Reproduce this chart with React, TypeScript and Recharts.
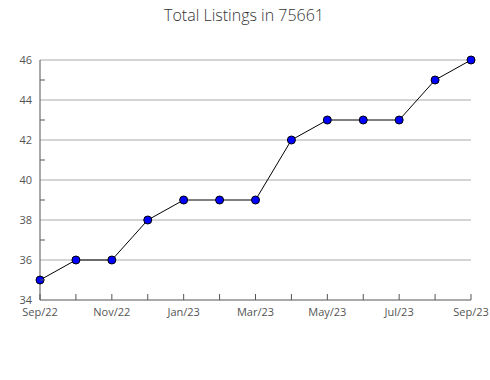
import React from 'react';
import { LineChart, Line, XAxis, YAxis, ReferenceLine } from 'recharts';

const months = ['Sep/22','Oct/22','Nov/22','Dec/22','Jan/23','Feb/23','Mar/23','Apr/23','May/23','Jun/23','Jul/23','Aug/23','Sep/23'];
const listings = [35,36,36,38,39,39,39,42,43,43,43,45,46];
const yTicks = [34,35,36,37,38,39,40,41,42,43,44,45,46];
const gridValues = [36,38,40,42,44,46];

const data = months.map((m, i) => ({ month: m, value: listings[i] }));

const FONT = '"Open Sans", sans-serif';

const YTick = (props: any) => {
  const { x, y, payload } = props;
  const v = payload.value;
  if (v % 2 === 0) {
    return (
      <text x={x - 8} y={y} dy={4} textAnchor="end" fontSize={11} fill="#555" fontFamily={FONT}>{v}</text>
    );
  }
  return <line x1={x} x2={x + 5} y1={y} y2={y} stroke="#555" strokeWidth={1} />;
};

const XTick = (props: any) => {
  const { x, y, payload, index } = props;
  return (
    <g>
      <line x1={x} x2={x} y1={y} y2={y - 6} stroke="#555" strokeWidth={1} />
      {index % 2 === 0 && (
        <text x={x} y={y + 16} textAnchor="middle" fontSize={11} fill="#555" fontFamily={FONT}>{payload.value}</text>
      )}
    </g>
  );
};

export default function App() {
  return (
    <div style={{ position: 'absolute', left: 0, top: 0, width: 490, height: 380, background: '#fff' }}>
      <div style={{ position: 'absolute', left: 0, top: 4, width: 488, textAlign: 'center', fontFamily: FONT, fontSize: 16, color: '#333', fontWeight: 300 }}>
        Total Listings in 75661
      </div>
      <LineChart width={490} height={380} data={data} margin={{ top: 60, right: 19, left: 0, bottom: 50 }}>
        {gridValues.map((g) => (
          <ReferenceLine key={g} y={g} stroke="#aaa" strokeWidth={1} ifOverflow="extendDomain" />
        ))}
        <XAxis dataKey="month" interval={0} tickSize={0} tickMargin={0} height={30} tick={<XTick />} axisLine={{ stroke: '#555' }} tickLine={false} />
        <YAxis domain={[34, 46]} ticks={yTicks} interval={0} width={40} tickSize={0} tickMargin={0} tick={<YTick />} axisLine={{ stroke: '#555' }} tickLine={false} />
        <Line type="linear" dataKey="value" stroke="#000" strokeWidth={1} isAnimationActive={false}
          dot={{ r: 4, fill: '#0000ff', stroke: '#000', strokeWidth: 1 }} activeDot={false} />
      </LineChart>
    </div>
  );
}
